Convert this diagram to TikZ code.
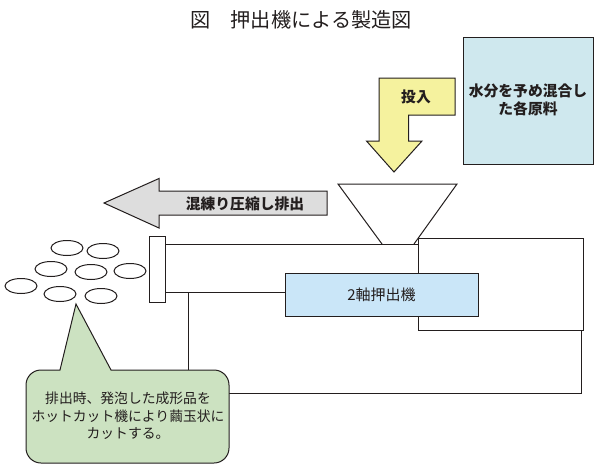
\documentclass[tikz,border=0pt]{standalone}
\usepackage{fontspec}
\setmainfont{Noto Sans CJK JP}
\usepackage{tikz}
\usetikzlibrary{positioning, calc, shapes.geometric}
\definecolor{linedark}{RGB}{35,30,30}
\definecolor{stockblue}{RGB}{207,232,238}
\definecolor{feedyellow}{RGB}{245,242,158}
\definecolor{flowgray}{RGB}{221,221,221}
\definecolor{screwblue}{RGB}{202,230,248}
\definecolor{notegreen}{RGB}{204,226,193}

\begin{document}
\begin{tikzpicture}[
  x=1pt, y=-1pt,
  outline/.style={draw=linedark, line width=1pt, line join=miter},
  wire/.style={draw=linedark, line width=1pt},
  boldlabel/.style={font=\fontsize{14.8}{18}\selectfont\bfseries, color=linedark, align=center, inner sep=0pt},
  pellet/.style={ellipse, outline, fill=white, minimum width=32pt, minimum height=15pt, inner sep=0pt},
  notelabel/.style={font=\fontsize{13.8}{17.5}\selectfont, color=linedark, align=center, inner sep=0pt},
]
  \useasboundingbox (0,0) rectangle (597,471);

  % title
  \node[font=\fontsize{20.2}{24}\selectfont, color=linedark, inner sep=0pt] (title) at (301,20) {図　押出機による製造図};

  % raw material and feed arrow
  \node[outline, fill=stockblue, minimum width=130pt, minimum height=127pt, inner sep=0pt] (stock) at (528,100.5) {};
  \node[boldlabel] (stocklabel) at (528,100) {水分を予め混合し\\た各原料};
  \draw[outline, fill=feedyellow] (379,78) -- (455,78) -- (455,115) -- (408.5,115) -- (408.5,141) -- (422,141) -- (394,172) -- (366.5,141) -- (379,141) -- cycle;
  \node[boldlabel] (feedlabel) at (416,96.5) {投入};

  % discharge arrow
  \draw[outline, fill=flowgray] (327,191) -- (159,191) -- (159,178.5) -- (104,203) -- (159,228) -- (159,215) -- (327,215) -- cycle;
  \node[boldlabel] (flowlabel) at (245,204) {混練り圧縮し排出};

  % extruder
  \node[outline, fill=white, minimum width=165pt, minimum height=92pt, inner sep=0pt] (motor) at (500.5,284) {};
  \node[outline, fill=white, minimum width=15.5pt, minimum height=66pt, inner sep=0pt] (plate) at (157.7,269) {};
  \coordinate (barreltop) at (418,244);
  \coordinate (barrelbot) at (285,292);
  \draw[outline, fill=white] (382,244) -- (338,184) -- (457,184) -- (414,244);
  \draw[wire] (plate.east |- barreltop) -- (barreltop);
  \draw[wire] (plate.east |- barrelbot) -- (barrelbot);
  \node[outline, fill=screwblue, minimum width=193pt, minimum height=43pt, inner sep=0pt, font=\fontsize{15}{17}\selectfont, text=linedark] (screw) at (381.5,294.5) {2軸押出機};

  % pellets
  \node[pellet] (p1) at (67,248) {};
  \node[pellet] (p2) at (103,251) {};
  \node[pellet] (p3) at (51,269) {};
  \node[pellet] (p4) at (91,272) {};
  \node[pellet] (p5) at (130,271) {};
  \node[pellet] (p6) at (21,286) {};
  \node[pellet] (p7) at (60,294) {};
  \node[pellet] (p8) at (101,296) {};

  % cutter note
  \coordinate (notetop) at (188,370);
  \coordinate (noteright) at (229,393);
  \draw[wire] (notetop) -- (notetop |- barrelbot);
  \draw[wire] (noteright) -- (581,393) -- (581,330);
  \draw[outline, fill=notegreen] (60,370) [rounded corners=15pt] -- (26,370) -- (26,463) -- (229,463) -- (229,370) [sharp corners] -- (111,370) -- (76,304) -- cycle;
  \node[notelabel] (notelabel) at (128,416) {排出時、発泡した成形品を\\ホットカット機により繭玉状に\\カットする。};
\end{tikzpicture}
\end{document}
